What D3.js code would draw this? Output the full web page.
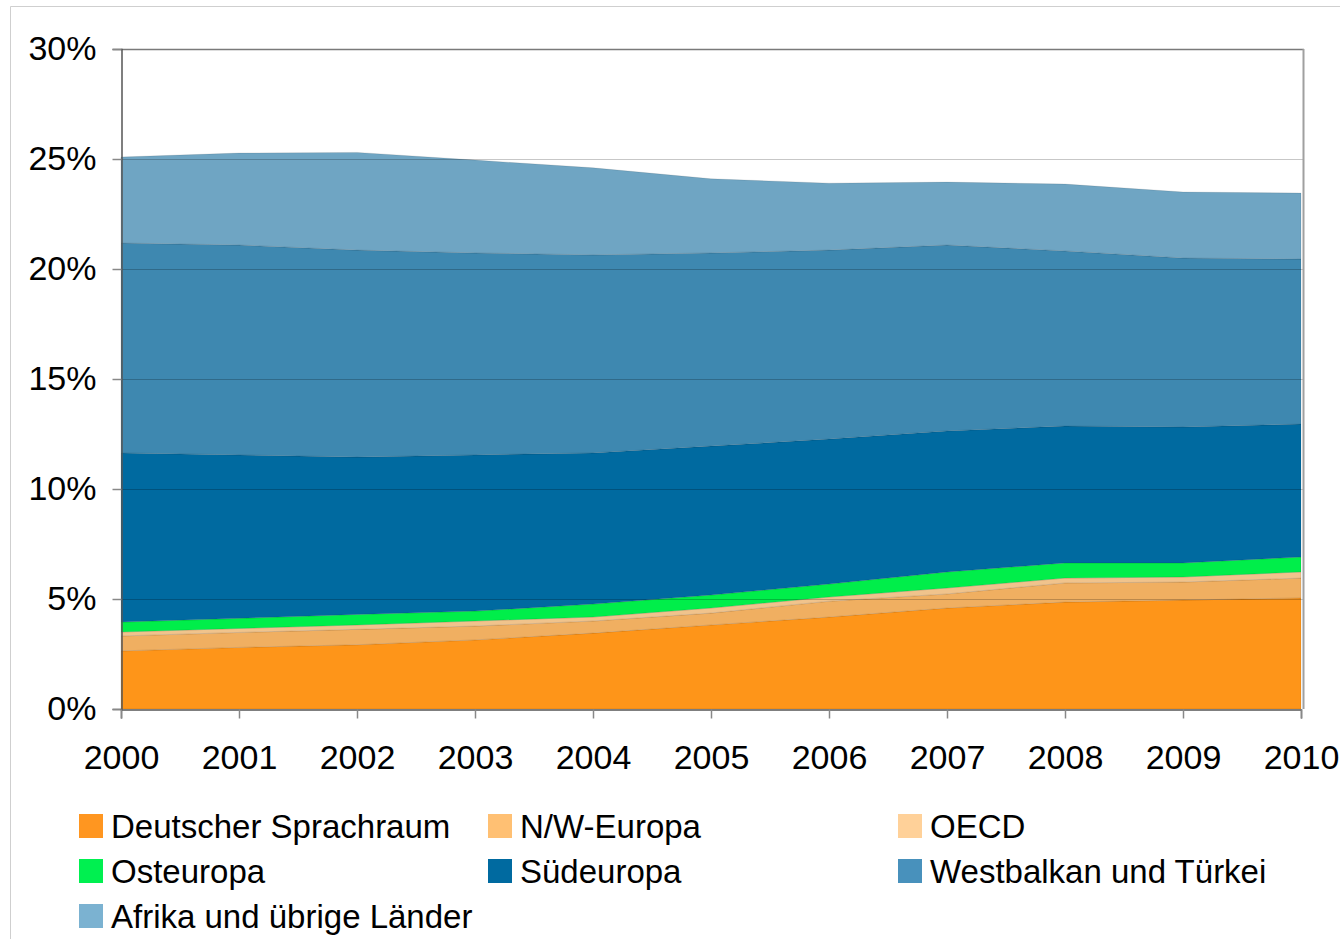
<!DOCTYPE html>
<html><head><meta charset="utf-8">
<script src="https://cdn.jsdelivr.net/npm/d3@7"></script>
<style>body{margin:0;background:#fff;}svg{display:block;font-family:"Liberation Sans",Arial,sans-serif;}</style>
</head><body>
<svg id="c" width="1340" height="939"></svg>
<script>
const years = [2000,2001,2002,2003,2004,2005,2006,2007,2008,2009,2010];
const yTicks = [0,5,10,15,20,25,30];
const seriesNames = ["Deutscher Sprachraum","N/W-Europa","OECD","Osteuropa","Südeuropa","Westbalkan und Türkei","Afrika und übrige Länder"];
// per-layer values (percent)
const deutsch    = [2.64,2.80,2.92,3.14,3.45,3.82,4.18,4.59,4.86,4.95,5.05];
const nwEuropa   = [0.68,0.68,0.70,0.63,0.55,0.54,0.72,0.64,0.87,0.82,0.90];
const oecd       = [0.18,0.18,0.20,0.23,0.18,0.23,0.19,0.27,0.22,0.23,0.28];
const osteuropa  = [0.45,0.46,0.48,0.45,0.59,0.59,0.59,0.73,0.69,0.64,0.68];
const suedeuropa = [7.69,7.43,7.15,7.10,6.87,6.77,6.59,6.41,6.22,6.18,6.04];
const westbalkan = [9.54,9.54,9.41,9.18,9.00,8.78,8.59,8.45,7.96,7.68,7.50];
const afrika     = [3.91,4.18,4.44,4.22,3.96,3.37,3.04,2.86,3.04,3.00,3.00];
const areaColors   = ["#FE9519","#F0AF61","#F0C38C","#00EE4A","#006AA0","#3E88B0","#6FA5C3"];
const legendColors = ["#FF9620","#FFC073","#FFD199","#00F050","#006AA0","#4891BC","#7BB2D1"];

const seriesVals = [deutsch,nwEuropa,oecd,osteuropa,suedeuropa,westbalkan,afrika];
const table = years.map((y,i)=>{const o={year:y}; seriesNames.forEach((n,k)=>o[n]=seriesVals[k][i]); return o;});

const svg = d3.select("#c");
const L=121, R=1301, T=49, B=709;
const x = d3.scaleLinear().domain([2000,2010]).range([L,R]);
const y = d3.scaleLinear().domain([0,30]).range([B,T]);

// outer frame
svg.append("path").attr("d","M10.5,939 V6.5 H1340").attr("fill","none").attr("stroke","#cfcfcf").attr("stroke-width",1);

const stack = d3.stack().keys(seriesNames)(table);
const area = d3.area().x(d=>x(d.data.year)).y0(d=>y(d[0])).y1(d=>y(d[1]));
svg.append("g").selectAll("path").data(stack).join("path")
  .attr("d",area).attr("fill",(d,i)=>areaColors[i])
  .attr("stroke","rgba(0,0,0,0.10)").attr("stroke-width",1);

// gridlines on top (semi-transparent)
svg.append("g").selectAll("line").data(yTicks.filter(t=>t>0&&t<30)).join("line")
  .attr("x1",L).attr("x2",R+2).attr("y1",d=>y(d)+0.5).attr("y2",d=>y(d)+0.5)
  .attr("stroke","rgba(0,0,0,0.22)").attr("stroke-width",1);

// plot border
svg.append("line").attr("x1",L).attr("x2",R+3).attr("y1",T+0.5).attr("y2",T+0.5).attr("stroke","#7a7a7a").attr("stroke-width",1.5);
svg.append("line").attr("x1",R+2.5).attr("x2",R+2.5).attr("y1",T).attr("y2",B).attr("stroke","#a0a0a0").attr("stroke-width",2);

// axes
const yAxis = d3.axisLeft(y).tickValues(yTicks).tickFormat(d=>d+"%").tickSize(9).tickPadding(16);
const gy = svg.append("g").attr("transform",`translate(${L+0.5},0)`).call(yAxis);
const xAxis = d3.axisBottom(x).tickValues(years).tickFormat(d3.format("d")).tickSize(9).tickPadding(26);
const gx = svg.append("g").attr("transform",`translate(0,${B+0.5})`).call(xAxis);
[gy,gx].forEach(g=>{
  g.select(".domain").attr("stroke","#555").attr("stroke-width",1.5);
  g.selectAll(".tick line").attr("stroke","#888").attr("stroke-width",1.5);
  g.selectAll(".tick text").attr("fill","#000").style("font-size","34px").style("font-family","'Liberation Sans',Arial,sans-serif");
});

// legend
const cols=[79,488,898], rows=[826,871,916];
const lg = svg.append("g");
seriesNames.forEach((n,i)=>{
  const cx=cols[i%3], cy=rows[Math.floor(i/3)];
  lg.append("rect").attr("x",cx).attr("y",cy-12).attr("width",24).attr("height",24).attr("fill",legendColors[i]);
  lg.append("text").attr("x",cx+32).attr("y",cy).attr("dy","0.36em").style("font-size","33px").attr("fill","#000").text(n);
});
</script>
</body></html>
